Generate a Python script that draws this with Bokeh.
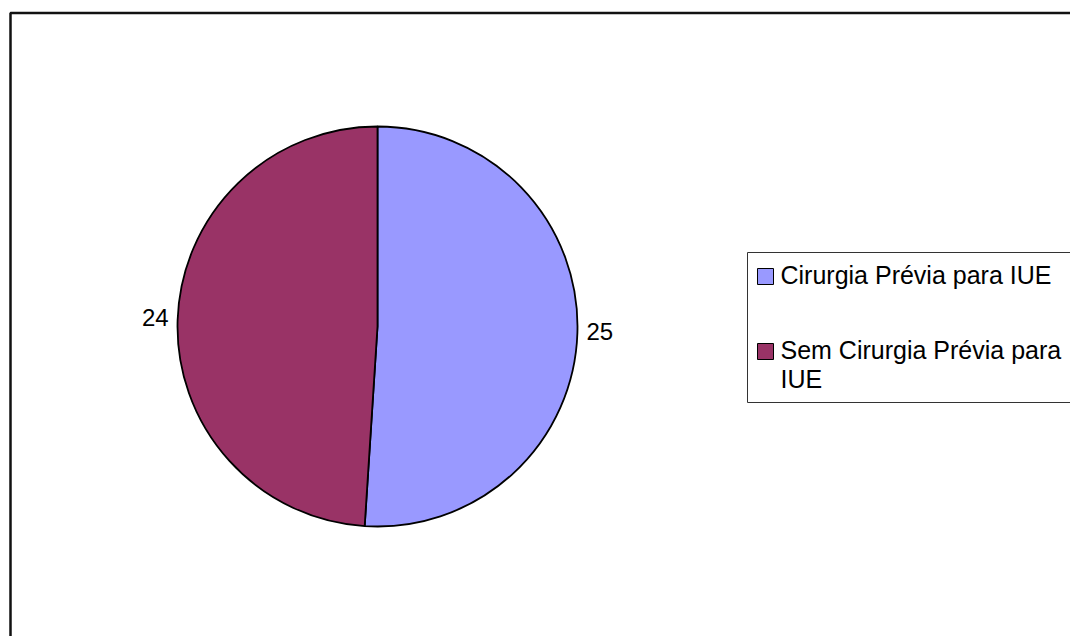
import math
from bokeh.plotting import figure
from bokeh.models import Range1d
from bokeh.core.properties import value
from bokeh.embed import file_html
from bokeh.resources import INLINE

# ---- data ----
categories = ["Cirurgia Prévia para IUE", "Sem Cirurgia Prévia para\nIUE"]
counts = [25, 24]
colors = ["#9999FF", "#993366"]

W, H = 1070, 636
FONT = value("Liberation Sans")

def Y(y):
    return H - y

p = figure(width=W, height=H, x_range=Range1d(0, W), y_range=Range1d(0, H),
           output_backend="svg", toolbar_location=None, min_border=0,
           background_fill_color="white", border_fill_color="white")
p.axis.visible = False
p.grid.visible = False
p.outline_line_color = None

# outer frame (extends beyond right/bottom edges)
p.quad(left=[10], right=[W + 20], top=[Y(12.5)], bottom=[Y(H + 20)],
       fill_color=None, line_color="#111111", line_width=2.5)

# pie
cx, cy, r = 377, Y(326), 200
total = sum(counts)
start = math.pi / 2
starts, ends, mids = [], [], []
for c in counts:
    sweep = 2 * math.pi * c / total
    starts.append(start)
    ends.append(start - sweep)
    mids.append(start - sweep / 2)
    start -= sweep

p.wedge(x=[cx] * len(counts), y=[cy] * len(counts), radius=r,
        start_angle=starts, end_angle=ends, direction="clock",
        fill_color=colors, line_color="black", line_width=1.8)

# value labels
lr = 209
for v, m in zip(counts, mids):
    lx = cx + lr * math.cos(m)
    ly = cy + lr * math.sin(m) + 2
    align = "left" if math.cos(m) > 0 else "right"
    p.text(x=[lx], y=[ly], text=[str(v)], text_align=align,
           text_baseline="middle", text_font=FONT, text_font_size="24px",
           text_color="black")

# legend
p.quad(left=[747], right=[W + 20], top=[Y(252)], bottom=[Y(402)],
       fill_color="white", line_color="#333333", line_width=1)
item_tops = [268, 343]
for cat, col, t in zip(categories, colors, item_tops):
    p.quad(left=[757], right=[773], top=[Y(t)], bottom=[Y(t + 16)],
           fill_color=col, line_color="black", line_width=1)
    p.text(x=[780], y=[Y(t - 8)], text=[cat], text_align="left",
           text_baseline="top", text_font=FONT, text_font_size="25px",
           text_color="black", text_line_height=1.05)

open("out.html", "w").write(file_html(p, INLINE))
